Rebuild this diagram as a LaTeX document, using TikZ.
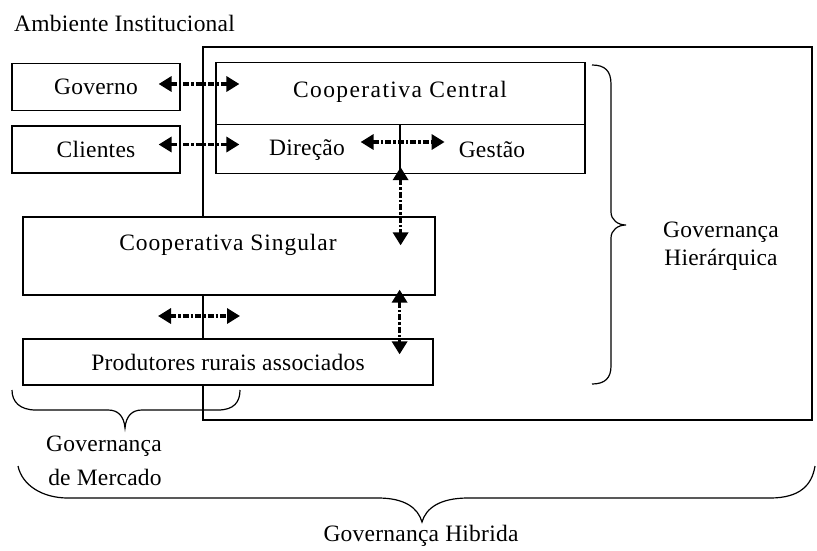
\documentclass[tikz,border=0pt]{standalone}
\usepackage{fontspec}
\setmainfont{Liberation Serif}[LetterSpace=1]
\usetikzlibrary{arrows.meta,calc}
\begin{document}
\begin{tikzpicture}[x=1pt,y=-1pt,
  font=\fontsize{23.5}{26}\selectfont,
  box/.style={draw, fill=white, line width=1.2pt, inner sep=0pt},
  lbl/.style={inner sep=0pt},
  link/.style={line width=3.4pt, dash pattern=on 6pt off 2pt on 2.5pt off 2pt,
    {Triangle[length=13pt,width=15pt]}-{Triangle[length=13pt,width=15pt]}},
  brace/.style={line width=1.2pt}]
\useasboundingbox (0,0) rectangle (817,550);
\fill[white] (0,0) rectangle (817,550);
% hierarchy frame
\draw[line width=1.2pt] (203,47) rectangle (812,420);
% boxes
\node[box, minimum width=168pt, minimum height=47pt] (gov) at (96,87) {Governo};
\node[box, minimum width=168pt, minimum height=47pt] (cli) at (96,149.5) {Clientes};
\node[box, minimum width=369pt, minimum height=62pt] (cct) at (400.5,93.5) {};
\node[lbl] (cctl) at (400,92) {\addfontfeature{LetterSpace=6}Cooperativa Central};
\node[box, minimum width=184pt, minimum height=49pt] (dir) at (308,149) {};
\node[lbl] (dirl) at (307,150) {Direção};
\node[box, minimum width=185pt, minimum height=49pt] (ges) at (492.5,149) {};
\node[lbl] (gesl) at (492,150) {Gestão};
\node[box, minimum width=412pt, minimum height=78pt] (sing) at (229,256) {};
\node[lbl] (singl) at (228,245) {\addfontfeature{LetterSpace=4}Cooperativa Singular};
\node[box, minimum width=410pt, minimum height=46pt] (prod) at (228,362) {Produtores rurais associados};
% connectors
\coordinate (gA) at ([xshift=-22pt,yshift=3pt]gov.east);
\coordinate (gB) at ([xshift=24pt]cct.west |- gA);
\draw[link] (gA) -- (gB);
\coordinate (cA) at ([xshift=-22pt,yshift=5pt]cli.east);
\coordinate (cB) at ([xshift=24pt]dir.west |- cA);
\draw[link] (cA) -- (cB);
\coordinate (dA) at ([xshift=-40pt,yshift=7pt]dir.east);
\coordinate (dB) at ([xshift=44pt,yshift=7pt]dir.east);
\draw[link] (dA) -- (dB);
\coordinate (vA) at ([yshift=7pt]dir.south east);
\coordinate (vB) at ([xshift=-36pt,yshift=-29pt]sing.north east);
\draw[link] (vA) -- (vA |- vB);
\coordinate (wA) at ([xshift=-36pt,yshift=6pt]sing.south east);
\coordinate (wB) at ([xshift=-36pt,yshift=-16pt]prod.north east);
\draw[link] (wA) -- (wA |- wB);
\coordinate (mA) at (158,316);
\coordinate (mB) at (240,316);
\draw[link] (mA) -- (mB);
% labels
\node[lbl, anchor=west] (amb) at (14,23) {Ambiente Institucional};
\node[lbl] (hier1) at (721,232) {Governança};
\node[lbl] (hier2) at (721,260) {Hierárquica};
\node[lbl] (merc1) at (104,446) {Governança};
\node[lbl] (merc2) at (105,477) {de Mercado};
\node[lbl] (hib) at (421,536) {Governança Hibrida};
% braces
\draw[brace] (592,65) .. controls (605,65) and (611,71) .. (611,84) -- (611,212)
  .. controls (611,220) and (618,225) .. (626,225)
  .. controls (618,225) and (611,230) .. (611,238) -- (611,366)
  .. controls (611,378) and (605,384) .. (592,384);
\draw[brace] (12,390) .. controls (12,402) and (20,410) .. (36,410) -- (108,410)
  .. controls (118,410) and (124,416) .. (125,428)
  .. controls (126,416) and (132,410) .. (142,410) -- (218,410)
  .. controls (234,410) and (240,402) .. (240,390);
\draw[brace] (18,466) .. controls (22,485) and (42,498) .. (68,498) -- (378,498)
  .. controls (405,498) and (418,508) .. (422,522)
  .. controls (426,508) and (440,498) .. (468,498) -- (770,498)
  .. controls (800,498) and (812,485) .. (815,466);
\end{tikzpicture}
\end{document}
